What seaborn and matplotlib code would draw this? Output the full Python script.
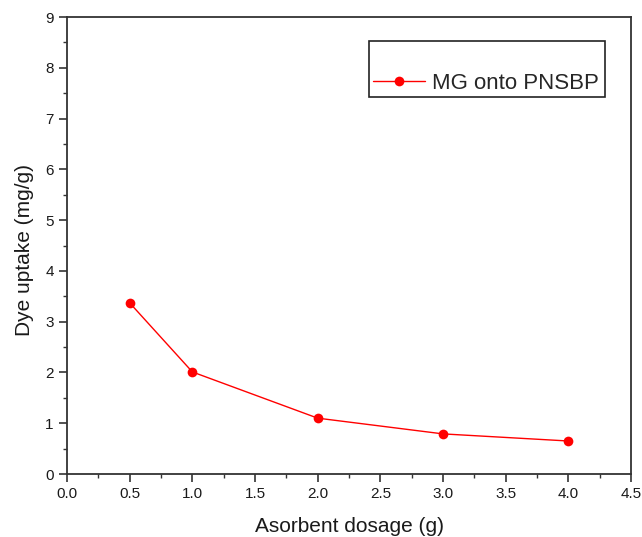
import matplotlib
matplotlib.use("Agg")
import matplotlib.pyplot as plt
from matplotlib.patches import Rectangle
from matplotlib.ticker import MultipleLocator, FormatStrFormatter
import seaborn as sns
import pandas as pd

dosage = [0.5, 1.0, 2.0, 3.0, 4.0]
uptake = [3.37, 2.01, 1.10, 0.79, 0.65]
series_name = "MG onto PNSBP"

sns.set_theme(style="ticks")
plt.rcParams["font.family"] = ["Liberation Sans", "DejaVu Sans"]

df = pd.DataFrame({"dosage": dosage, "uptake": uptake, "series": series_name})

fig = plt.figure(figsize=(6.42, 5.37), dpi=100)
ax = fig.add_axes([0.1044, 0.1173, 0.8786, 0.851])

sns.lineplot(data=df, x="dosage", y="uptake", hue="series", palette=["#ff0000"],
             marker="o", markersize=7, markeredgewidth=0, linewidth=1.0, ax=ax)

ax.set_xlim(0, 4.5)
ax.set_ylim(0, 9)
ax.xaxis.set_major_locator(MultipleLocator(0.5))
ax.xaxis.set_minor_locator(MultipleLocator(0.25))
ax.yaxis.set_major_locator(MultipleLocator(1))
ax.yaxis.set_minor_locator(MultipleLocator(0.5))
ax.xaxis.set_major_formatter(FormatStrFormatter("%.1f"))

for s in ax.spines.values():
    s.set_color("#333333")
    s.set_linewidth(1.3)
ax.tick_params(which="major", direction="out", length=6, width=1.2, colors="#333333",
               labelsize=11, labelcolor="#1a1a1a")
ax.tick_params(which="minor", direction="out", length=3, width=1.0, colors="#333333")
ax.tick_params(top=False, right=False, which="both")

ax.set_xlabel("Asorbent dosage (g)", fontsize=15, color="#1a1a1a")
ax.set_ylabel("Dye uptake (mg/g)", fontsize=15, color="#1a1a1a")
ax.xaxis.set_label_coords(0.5, -0.095)
ax.yaxis.set_label_coords(-0.059, 0.49)

# legend box with an empty band above the entry
ax.add_patch(Rectangle((0.5355, 0.825), 0.4185, 0.1225, transform=ax.transAxes,
                       facecolor="white", edgecolor="#222222", linewidth=1.2, zorder=4))
leg = ax.legend(loc="center left", bbox_to_anchor=(0.5426, 0.8556), fontsize=16,
                frameon=False, borderpad=0.0, handlelength=2.34, handletextpad=0.3,
                borderaxespad=0)
leg.set_zorder(5)

fig.savefig("out.png", dpi=100)
